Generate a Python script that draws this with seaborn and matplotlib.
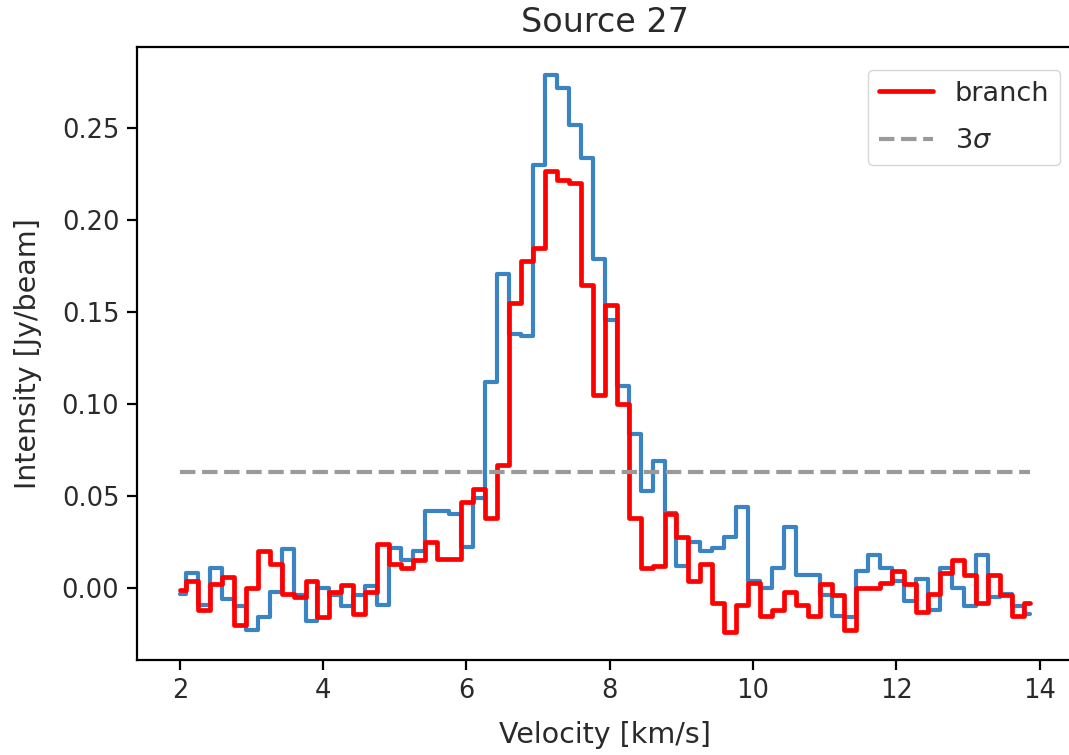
import numpy as np
import matplotlib
matplotlib.use("Agg")
import matplotlib.pyplot as plt
from matplotlib.lines import Line2D
import seaborn as sns

# Spectral axis: 72 channels starting at 2.0 km/s
VEL_START = 2.0
CHANNEL_WIDTH = 0.167
N_CHAN = 72
velocity = VEL_START + CHANNEL_WIDTH * np.arange(N_CHAN)

# Full-beam spectrum (blue)
spectrum = [
    -0.003, 0.008, -0.009, 0.011, -0.006, -0.010, -0.023, -0.016, -0.002, 0.021,
    -0.004, -0.018, 0.000, -0.004, -0.010, -0.004, 0.001, -0.0095, 0.0215, 0.015,
    0.020, 0.042, 0.042, 0.040, 0.0225, 0.049, 0.112, 0.171, 0.138, 0.137,
    0.230, 0.279, 0.272, 0.252, 0.234, 0.179, 0.146, 0.110, 0.084, 0.053,
    0.069, 0.041, 0.012, 0.025, 0.020, 0.0215, 0.028, 0.044, 0.004, 0.000,
    0.011, 0.033, 0.007, 0.007, -0.004, -0.015, -0.016, 0.009, 0.018, 0.011,
    0.004, -0.007, 0.005, -0.012, 0.011, 0.000, -0.010, 0.018, -0.005, -0.003,
    -0.010, -0.014,
]

# Branch spectrum (red)
branch = [
    -0.001, 0.004, -0.012, 0.002, 0.006, -0.020, 0.000, 0.020, 0.013, -0.003,
    -0.005, 0.004, -0.016, -0.002, 0.0015, -0.014, -0.002, 0.024, 0.013, 0.011,
    0.015, 0.025, 0.016, 0.016, 0.047, 0.054, 0.038, 0.067, 0.155, 0.178,
    0.185, 0.227, 0.222, 0.220, 0.165, 0.105, 0.154, 0.100, 0.038, 0.011,
    0.012, 0.040, 0.028, 0.004, 0.013, -0.008, -0.024, -0.009, 0.003, -0.015,
    -0.012, -0.002, -0.009, -0.015, 0.002, -0.004, -0.023, 0.000, 0.000, 0.003,
    0.009, 0.002, -0.013, -0.003, 0.008, 0.015, 0.007, -0.008, 0.007, -0.004,
    -0.015, -0.008,
]

three_sigma = 0.063

TITLE = "Source 27"
XLABEL = "Velocity [km/s]"
YLABEL = "Intensity [Jy/beam]"
XTICKS = [2, 4, 6, 8, 10, 12, 14]
YTICKS = [0.00, 0.05, 0.10, 0.15, 0.20, 0.25]

sns.set_theme(style="ticks")
plt.rcParams["font.family"] = ["DejaVu Sans"]
plt.rcParams.update({
    "axes.edgecolor": "black",
    "axes.linewidth": 1.6,
    "xtick.color": "black",
    "ytick.color": "black",
    "xtick.labelcolor": "#2a2a2a",
    "ytick.labelcolor": "#2a2a2a",
    "xtick.major.size": 7,
    "ytick.major.size": 7,
    "xtick.major.width": 1.6,
    "ytick.major.width": 1.6,
    "text.color": "#2a2a2a",
    "axes.labelcolor": "#2a2a2a",
})

fig = plt.figure(figsize=(10.69, 7.55), dpi=100)
ax = fig.add_axes([0.1285, 0.1258, 0.8743, 0.8119])

sns.lineplot(x=velocity, y=spectrum, drawstyle="steps-mid", color="#3a84c4",
             linewidth=3.0, ax=ax, legend=False)
sns.lineplot(x=velocity, y=branch, drawstyle="steps-mid", color="red",
             linewidth=3.4, ax=ax, legend=False)
ax.hlines(three_sigma, velocity[0], velocity[-1], colors="#9a9a9a",
          linestyles="--", linewidth=3.0)

ax.set_xticks(XTICKS)
ax.set_yticks(YTICKS)
ax.set_yticklabels([f"{t:.2f}" for t in YTICKS])
ax.tick_params(axis="both", labelsize=18.5, pad=6)
ax.set_xlabel(XLABEL, fontsize=20.5, labelpad=12)
ax.set_ylabel(YLABEL, fontsize=20.5, labelpad=14)
ax.set_title(TITLE, fontsize=24, pad=11)

handles = [
    Line2D([], [], color="red", linewidth=3.4),
    Line2D([], [], color="#9a9a9a", linestyle="--", linewidth=3.0),
]
ax.legend(handles, ["branch", r"3$\sigma$"], loc="upper right",
          bbox_to_anchor=(1060 / 1069, 1 - 70 / 755),
          bbox_transform=fig.transFigure, borderaxespad=0,
          fontsize=19.5, labelspacing=0.8, frameon=True, fancybox=True,
          edgecolor="#cccccc", framealpha=0.8)

fig.savefig("out.png", dpi=100)
